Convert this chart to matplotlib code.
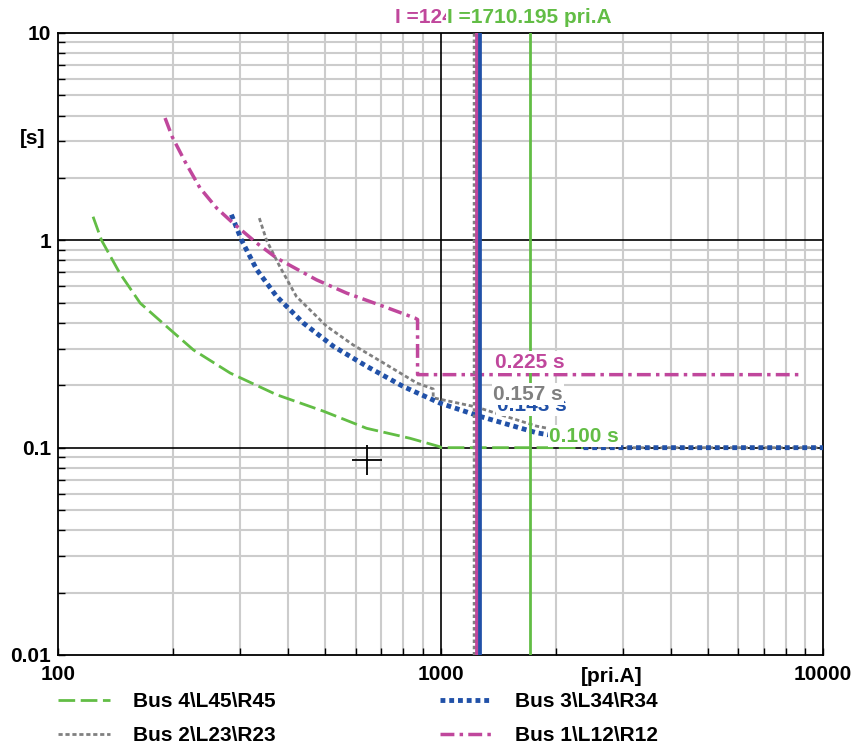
import matplotlib
matplotlib.use("Agg")
import matplotlib.pyplot as plt
from matplotlib.ticker import FixedLocator, NullFormatter
import matplotlib.transforms as mtransforms

# ---------------- data ----------------
green_I = [123.5, 130, 145, 164, 192, 226, 282, 373, 494, 641, 832, 997, 1000, 2360]
green_t = [1.30, 1.0, 0.695, 0.498, 0.385, 0.296, 0.229, 0.180, 0.150, 0.124, 0.111, 0.101, 0.100, 0.100]

blue_I = [284, 302, 331, 373, 438, 525, 641, 800, 997, 1268, 1783, 2360, 2360, 10000]
blue_t = [1.33, 1.0, 0.721, 0.536, 0.399, 0.308, 0.247, 0.197, 0.164, 0.1416, 0.118, 0.108, 0.100, 0.100]

gray_I = [336, 351, 380, 420, 504, 591, 710, 867, 957, 957, 1242, 1783, 2360, 2360, 10000]
gray_t = [1.28, 1.0, 0.748, 0.536, 0.385, 0.313, 0.256, 0.205, 0.192, 0.174, 0.157, 0.127, 0.115, 0.100, 0.100]

mag_I = [190.5, 199, 215, 235, 260, 287, 331, 373, 474, 569, 710, 857, 871, 871, 8790]
mag_t = [3.89, 3.15, 2.39, 1.79, 1.43, 1.21, 0.969, 0.821, 0.645, 0.556, 0.480, 0.422, 0.415, 0.225, 0.225]

series_names = ["Bus 4\\L45\\R45", "Bus 2\\L23\\R23", "Bus 3\\L34\\R34", "Bus 1\\L12\\R12"]

vline_I = {"gray": 1220, "mag": 1248, "blue": 1269, "green": 1710.195}
top_labels = {"mag": "I =1247.803 pri.A", "green": "I =1710.195 pri.A"}

time_labels = ["0.225 s", "0.157 s", "0.143 s", "0.100 s"]
time_label_I = [1390, 1375, 1405, 1925]
time_label_t = [0.258, 0.181, 0.160, 0.1135]

cross_I, cross_t = [643], [0.0875]

x_ticks = [100, 1000, 10000]
x_ticklabels = ["100", "1000", "10000"]
y_ticks = [0.01, 0.1, 1, 10]
y_ticklabels = ["0.01", "0.1", "1", "10"]

# ---------------- style ----------------
FONT = ["Liberation Sans", "DejaVu Sans"]
FS = 15
plt.rcParams["font.family"] = FONT
plt.rcParams["font.weight"] = "bold"

C_GREEN = "#62bd45"
C_BLUE = "#2151a8"
C_GRAY = "#808080"
C_MAG = "#c0479c"

fig = plt.figure(figsize=(8.57, 7.53), dpi=100)
W, H = 857, 753
ax = fig.add_axes([58 / W, 1 - 655 / H, (823 - 58) / W, (655 - 33) / H])
ax.set_xscale("log")
ax.set_yscale("log")
ax.set_xlim(100, 10000)
ax.set_ylim(0.01, 10)

# grid
minor_x = [m * 10 ** e for e in (2, 3) for m in range(2, 10)]
minor_y = [m * 10 ** e for e in (-2, -1, 0) for m in range(2, 10)]
for xv in minor_x:
    ax.axvline(xv, color="#cccccc", lw=1.5, zorder=0)
for yv in minor_y:
    ax.axhline(yv, color="#cccccc", lw=1.5, zorder=0)
ax.axvline(1000, color="black", lw=1.2, zorder=0.5)
ax.axhline(1, color="black", lw=1.2, zorder=0.5)
ax.axhline(0.1, color="black", lw=1.2, zorder=0.5)

ax.xaxis.set_major_locator(FixedLocator(x_ticks))
ax.xaxis.set_minor_locator(FixedLocator(minor_x))
ax.yaxis.set_major_locator(FixedLocator(y_ticks))
ax.yaxis.set_minor_locator(FixedLocator(minor_y))
ax.set_xticklabels(x_ticklabels)
ax.set_yticklabels(y_ticklabels)
ax.xaxis.set_minor_formatter(NullFormatter())
ax.yaxis.set_minor_formatter(NullFormatter())
ax.tick_params(which="both", direction="in", length=5, width=1, color="black",
               labelsize=FS)
ax.tick_params(axis="x", which="major", pad=7)
ax.tick_params(axis="y", which="major", pad=5)
for s in ax.spines.values():
    s.set_linewidth(1.3)

# curves
l_green, = ax.plot(green_I, green_t, color=C_GREEN, lw=2, ls=(0, (6, 2)), zorder=3)
l_gray, = ax.plot(gray_I, gray_t, color=C_GRAY, lw=2, ls=(0, (1.5, 1)), zorder=3)
l_blue, = ax.plot(blue_I, blue_t, color=C_BLUE, lw=3.5, ls=(0, (1, 0.8)), zorder=3)
l_mag, = ax.plot(mag_I, mag_t, color=C_MAG, lw=2.5, ls=(0, (4, 1.5, 1, 1.5)), zorder=3)

# vertical current markers
ax.axvline(vline_I["gray"], color=C_GRAY, lw=2.5, ls=(0, (1, 0.8)), zorder=4)
ax.axvline(vline_I["mag"], color=C_MAG, lw=2.7, zorder=4)
ax.axvline(vline_I["blue"], color=C_BLUE, lw=2.7, zorder=4.1)
ax.axvline(vline_I["green"], color=C_GREEN, lw=2, zorder=4)

# top labels
trans = mtransforms.blended_transform_factory(ax.transData, ax.transAxes)
ax.text(vline_I["mag"], 1.0257, top_labels["mag"], transform=trans, ha="center", va="center",
        color=C_MAG, fontsize=FS, bbox=dict(facecolor="white", edgecolor="none", pad=1),
        zorder=6, clip_on=False)
ax.text(vline_I["green"], 1.0257, top_labels["green"], transform=trans, ha="center", va="center",
        color=C_GREEN, fontsize=FS, bbox=dict(facecolor="white", edgecolor="none", pad=1),
        zorder=7, clip_on=False)

# time labels
t_colors = [C_MAG, C_GRAY, C_BLUE, C_GREEN]
t_order = [0, 2, 1, 3]  # draw blue before gray so gray covers it
for k, idx in enumerate(t_order):
    ax.text(time_label_I[idx], time_label_t[idx], time_labels[idx],
            color=t_colors[idx], fontsize=FS, ha="left", va="center",
            bbox=dict(facecolor="white", edgecolor="none", pad=1), zorder=8 + k)

# cursor
ax.plot(cross_I, cross_t, marker="+", ms=22, mew=1.3, color="black", ls="none", zorder=5)

# axis unit labels
ax.text(-0.017, 0.831, "[s]", transform=ax.transAxes, ha="right", va="center", fontsize=FS)
ax.text(2800, -0.034, "[pri.A]", transform=trans, ha="center", va="center", fontsize=FS)

# legend
handles = [l_green, l_gray, l_blue, l_mag]
leg = fig.legend(handles, series_names, loc="upper left", bbox_to_anchor=(58 / W, 1 - 692 / H),
                 ncol=2, frameon=False, fontsize=FS, handlelength=2.5, handletextpad=1.1,
                 columnspacing=7.9, borderpad=0, borderaxespad=0, labelspacing=0.72)

fig.savefig("out.png", dpi=100)
